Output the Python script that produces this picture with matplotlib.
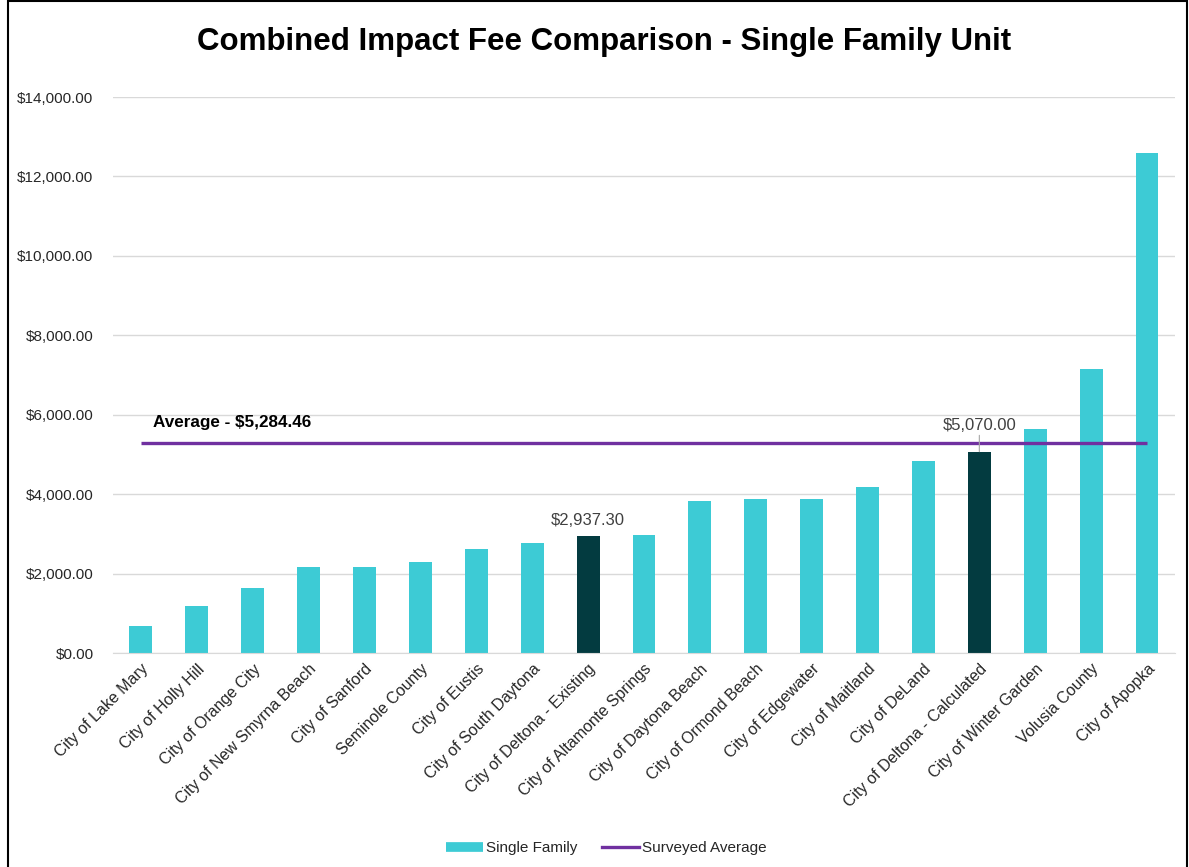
import matplotlib
matplotlib.use("Agg")
import matplotlib.pyplot as plt
from matplotlib.lines import Line2D
from matplotlib.patches import Rectangle
from matplotlib.ticker import FuncFormatter

plt.rcParams["font.family"] = ["Liberation Sans", "DejaVu Sans"]

cities = [
    "City of Lake Mary", "City of Holly Hill", "City of Orange City",
    "City of New Smyrna Beach", "City of Sanford", "Seminole County",
    "City of Eustis", "City of South Daytona", "City of Deltona - Existing",
    "City of Altamonte Springs", "City of Daytona Beach", "City of Ormond Beach",
    "City of Edgewater", "City of Maitland", "City of DeLand",
    "City of Deltona - Calculated", "City of Winter Garden", "Volusia County",
    "City of Apopka",
]
fees = [690, 1190, 1645, 2170, 2170, 2300, 2630, 2765, 2937.30,
        2965, 3830, 3890, 3890, 4190, 4830, 5070.00, 5635, 7145, 12585]
highlight = ["City of Deltona - Existing", "City of Deltona - Calculated"]
surveyed_avg = 5284.46

TEAL = "#3DCBD5"
DARK = "#033B40"
PURPLE = "#7030A0"

fig = plt.figure(figsize=(11.89, 8.67), dpi=100)
ax = fig.add_axes([0.0950, 0.2468, 0.8932, 0.6413])

x = list(range(len(cities)))
colors = [DARK if c in highlight else TEAL for c in cities]
ax.bar(x, fees, width=0.41, color=colors, zorder=2)
ax.plot(x, [surveyed_avg] * len(x), color=PURPLE, lw=2.4, zorder=3,
        solid_capstyle="butt")

ax.set_xlim(-0.5, len(cities) - 0.5)
ax.set_ylim(0, 14000)
ax.set_yticks(range(0, 14001, 2000))
ax.yaxis.set_major_formatter(FuncFormatter(lambda v, p: f"${v:,.2f}"))
ax.grid(axis="y", color="#D9D9D9", lw=1, zorder=0)
for s in ["top", "right", "left"]:
    ax.spines[s].set_visible(False)
ax.spines["bottom"].set_color("#D9D9D9")
ax.tick_params(axis="y", length=0, pad=14, labelsize=11, labelcolor="#262626")
ax.tick_params(axis="x", length=0, pad=6, labelsize=11.5, labelcolor="#262626")
ax.set_xticks(x)
ax.set_xticklabels(cities, rotation=45, ha="right", rotation_mode="anchor")

# data labels
i_exist = cities.index("City of Deltona - Existing")
ax.annotate(f"${fees[i_exist]:,.2f}", (i_exist, fees[i_exist]),
            xytext=(0, 6), textcoords="offset points", ha="center", va="bottom",
            fontsize=12, color="#404040")
i_calc = cities.index("City of Deltona - Calculated")
ax.annotate(f"${fees[i_calc]:,.2f}", (i_calc, fees[i_calc]),
            xytext=(i_calc, 5740), ha="center", va="center",
            fontsize=12, color="#404040",
            arrowprops=dict(arrowstyle="-", color="#A6A6A6", lw=0.8,
                            shrinkA=0, shrinkB=0))

ax.text(0.22, 5810, f"Average - ${surveyed_avg:,.2f}", ha="left", va="center",
        fontsize=12.3, fontweight="bold", color="black")

fig.text(0.508, 0.951, "Combined Impact Fee Comparison - Single Family Unit",
         ha="center", va="center", fontsize=22.5, fontweight="bold")

handles = [Line2D([], [], color=TEAL, lw=7, solid_capstyle="butt"),
           Line2D([], [], color=PURPLE, lw=2.4)]
fig.legend(handles, ["Single Family", "Surveyed Average"], loc="center",
           bbox_to_anchor=(0.51, 0.022), ncol=2, frameon=False,
           fontsize=11, handlelength=2.4, handletextpad=0.2, columnspacing=1.6,
           labelcolor="#262626")

fig.add_artist(Rectangle((0.0067, -0.01), 0.9916, 1.0088, fill=False,
                         edgecolor="black", lw=1.5, transform=fig.transFigure))

fig.savefig("out.png", dpi=100)
